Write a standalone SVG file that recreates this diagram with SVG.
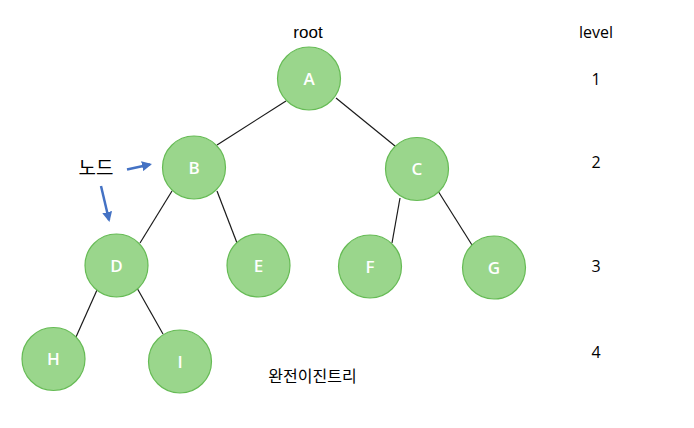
<svg xmlns="http://www.w3.org/2000/svg" width="694" height="428" viewBox="0 0 694 428">
<defs>
<style>
.node circle{fill:#9ad68c;stroke:#66bb55;stroke-width:1.2}
.node text{fill:#ffffff;font-family:"Open Sans","Liberation Sans",sans-serif;font-size:17px;font-weight:600;text-anchor:middle}
.edge{stroke:#1a1a1a;stroke-width:1.2;fill:none}
.lbl{fill:#000;font-family:"Open Sans","Liberation Sans",sans-serif;font-size:16px;text-anchor:middle}
.root{fill:#000;font-family:"Liberation Sans","Open Sans",sans-serif;font-size:17px;text-anchor:middle}
.kr{fill:#000;font-family:"Noto Sans CJK KR","Noto Sans",sans-serif;text-anchor:middle}
.arr{stroke:#4472c4;stroke-width:2.5;fill:none}
</style>
<marker id="ah" viewBox="0 0 10 10" refX="8" refY="5" markerWidth="4" markerHeight="4" orient="auto" markerUnits="strokeWidth">
<path d="M0,0 L10,5 L0,10 Z" fill="#4472c4"/>
</marker>
</defs>
<rect width="694" height="428" fill="#ffffff"/>
<g id="connectors">
<line class="edge" x1="286" y1="101" x2="217" y2="145"/>
<line class="edge" x1="336" y1="98" x2="395" y2="146"/>
<line class="edge" x1="172" y1="191" x2="140" y2="243"/>
<line class="edge" x1="217" y1="191" x2="237" y2="243"/>
<line class="edge" x1="400" y1="198" x2="392" y2="243"/>
<line class="edge" x1="438" y1="191" x2="472" y2="245"/>
<line class="edge" x1="97" y1="290" x2="76" y2="337"/>
<line class="edge" x1="137" y1="288" x2="163" y2="334"/>
<line class="arr" x1="127" y1="169.5" x2="150" y2="164.5" marker-end="url(#ah)"/>
<line class="arr" x1="101" y1="186" x2="109" y2="220" marker-end="url(#ah)"/>
</g>
<g id="node-A" class="node"><circle cx="309" cy="78.5" r="31.5"/><text x="309" y="84.5">A</text></g>
<g id="node-B" class="node"><circle cx="194" cy="167.5" r="31.5"/><text x="194" y="173.5">B</text></g>
<g id="node-C" class="node"><circle cx="417" cy="169" r="31.5"/><text x="417" y="175">C</text></g>
<g id="node-D" class="node"><circle cx="116.5" cy="265.5" r="31.5"/><text x="116.5" y="271.5">D</text></g>
<g id="node-E" class="node"><circle cx="258.5" cy="265.5" r="31.5"/><text x="258.5" y="271.5">E</text></g>
<g id="node-F" class="node"><circle cx="370" cy="266.5" r="31.5"/><text x="370" y="272.5">F</text></g>
<g id="node-G" class="node"><circle cx="494" cy="267.5" r="31.5"/><text x="494" y="273.5">G</text></g>
<g id="node-H" class="node"><circle cx="53.5" cy="359" r="31.5"/><text x="53.5" y="365">H</text></g>
<g id="node-I" class="node"><circle cx="180" cy="361.5" r="31.5"/><text x="180" y="367.5">I</text></g>
<g id="labels">
<text class="root" x="308" y="38">root</text>
<text class="lbl" x="596" y="38">level</text>
<text class="lbl" x="596" y="85">1</text>
<text class="lbl" x="596" y="168">2</text>
<text class="lbl" x="596" y="272">3</text>
<text class="lbl" x="596" y="358">4</text>
<text class="kr" x="96" y="175" font-size="19">노드</text>
<text class="kr" x="312.5" y="381.5" font-size="16">완전이진트리</text>
</g>
</svg>
